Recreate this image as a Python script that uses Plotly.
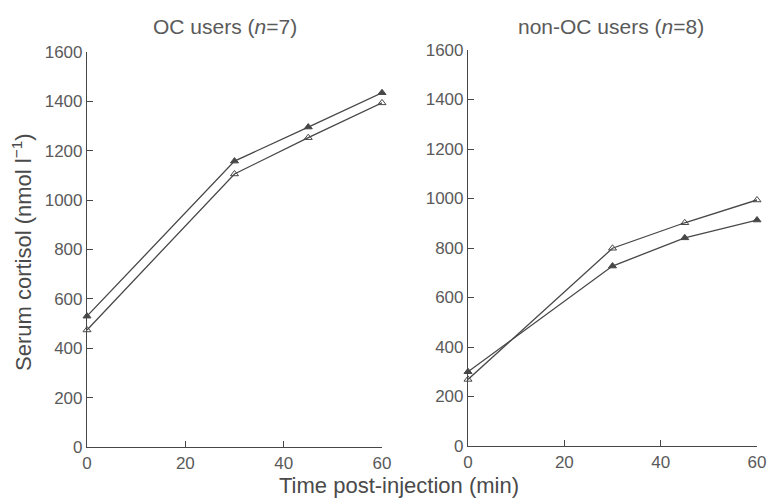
import plotly.graph_objects as go

time_min = [0, 30, 45, 60]
oc_filled = [530, 1158, 1296, 1435]
oc_open = [474, 1106, 1253, 1394]
non_filled = [300, 727, 841, 913]
non_open = [269, 799, 902, 994]
x_ticks = [0, 20, 40, 60]
y_ticks = [0, 200, 400, 600, 800, 1000, 1200, 1400, 1600]

LINE = "#474747"
TEXT = "#5a5a5a"
TITLE = "#4a4a4a"
FONT = "Liberation Sans"

fig = go.Figure()

def add(x, y, xa, ya, symbol):
    fig.add_trace(go.Scatter(
        x=x, y=y, xaxis=xa, yaxis=ya, mode="lines+markers",
        line=dict(color=LINE, width=1.3),
        marker=dict(symbol=symbol, size=7, color=LINE,
                    line=dict(color=LINE, width=1)),
        cliponaxis=False, showlegend=False))

add(time_min, oc_filled, "x", "y", "triangle-up")
add(time_min, oc_open, "x", "y", "triangle-up-open")
add(time_min, non_filled, "x2", "y2", "triangle-up")
add(time_min, non_open, "x2", "y2", "triangle-up-open")

W, H = 768, 499
def fx(px): return px / W
def fy(py): return 1 - py / H

axis_common = dict(showgrid=False, zeroline=False, showline=True,
                   linecolor=LINE, linewidth=1.2, ticks="inside",
                   ticklen=6, tickcolor=LINE, tickwidth=1.2, automargin=False,
                   tickfont=dict(family=FONT, size=17, color=TEXT))

def ann(text, x, y, size, color, angle=0):
    return dict(text=text, x=fx(x), y=fy(y), xref="paper", yref="paper",
                xanchor="center", yanchor="middle", showarrow=False,
                textangle=angle, font=dict(family=FONT, size=size, color=color))

fig.update_layout(
    width=W, height=H, margin=dict(l=0, r=0, t=0, b=0, pad=0),
    paper_bgcolor="white", plot_bgcolor="white",
    xaxis=dict(domain=[fx(87), fx(382)], range=[0, 60], tickvals=x_ticks,
               anchor="y", **axis_common),
    yaxis=dict(domain=[fy(447), fy(52)], range=[0, 1600], tickvals=y_ticks,
               anchor="x", **axis_common),
    xaxis2=dict(domain=[fx(468), fx(757)], range=[0, 60], tickvals=x_ticks,
                anchor="y2", **axis_common),
    yaxis2=dict(domain=[fy(446), fy(50)], range=[0, 1600], tickvals=y_ticks,
                anchor="x2", **axis_common),
    annotations=[
        ann("OC users (<i>n</i>=7)", 225, 27, 21, TEXT),
        ann("non-OC users (<i>n</i>=8)", 611, 26, 21, TEXT),
        ann("Serum cortisol (nmol l<sup>−1</sup>)", 22, 252, 22, TITLE, -90),
        ann("Time post-injection (min)", 399, 485, 22, TITLE),
    ],
)

fig.write_html(
    "out.html",
    config={"displayModeBar": False},
    post_script="document.body.style.margin='0';document.body.style.overflow='hidden';",
)
